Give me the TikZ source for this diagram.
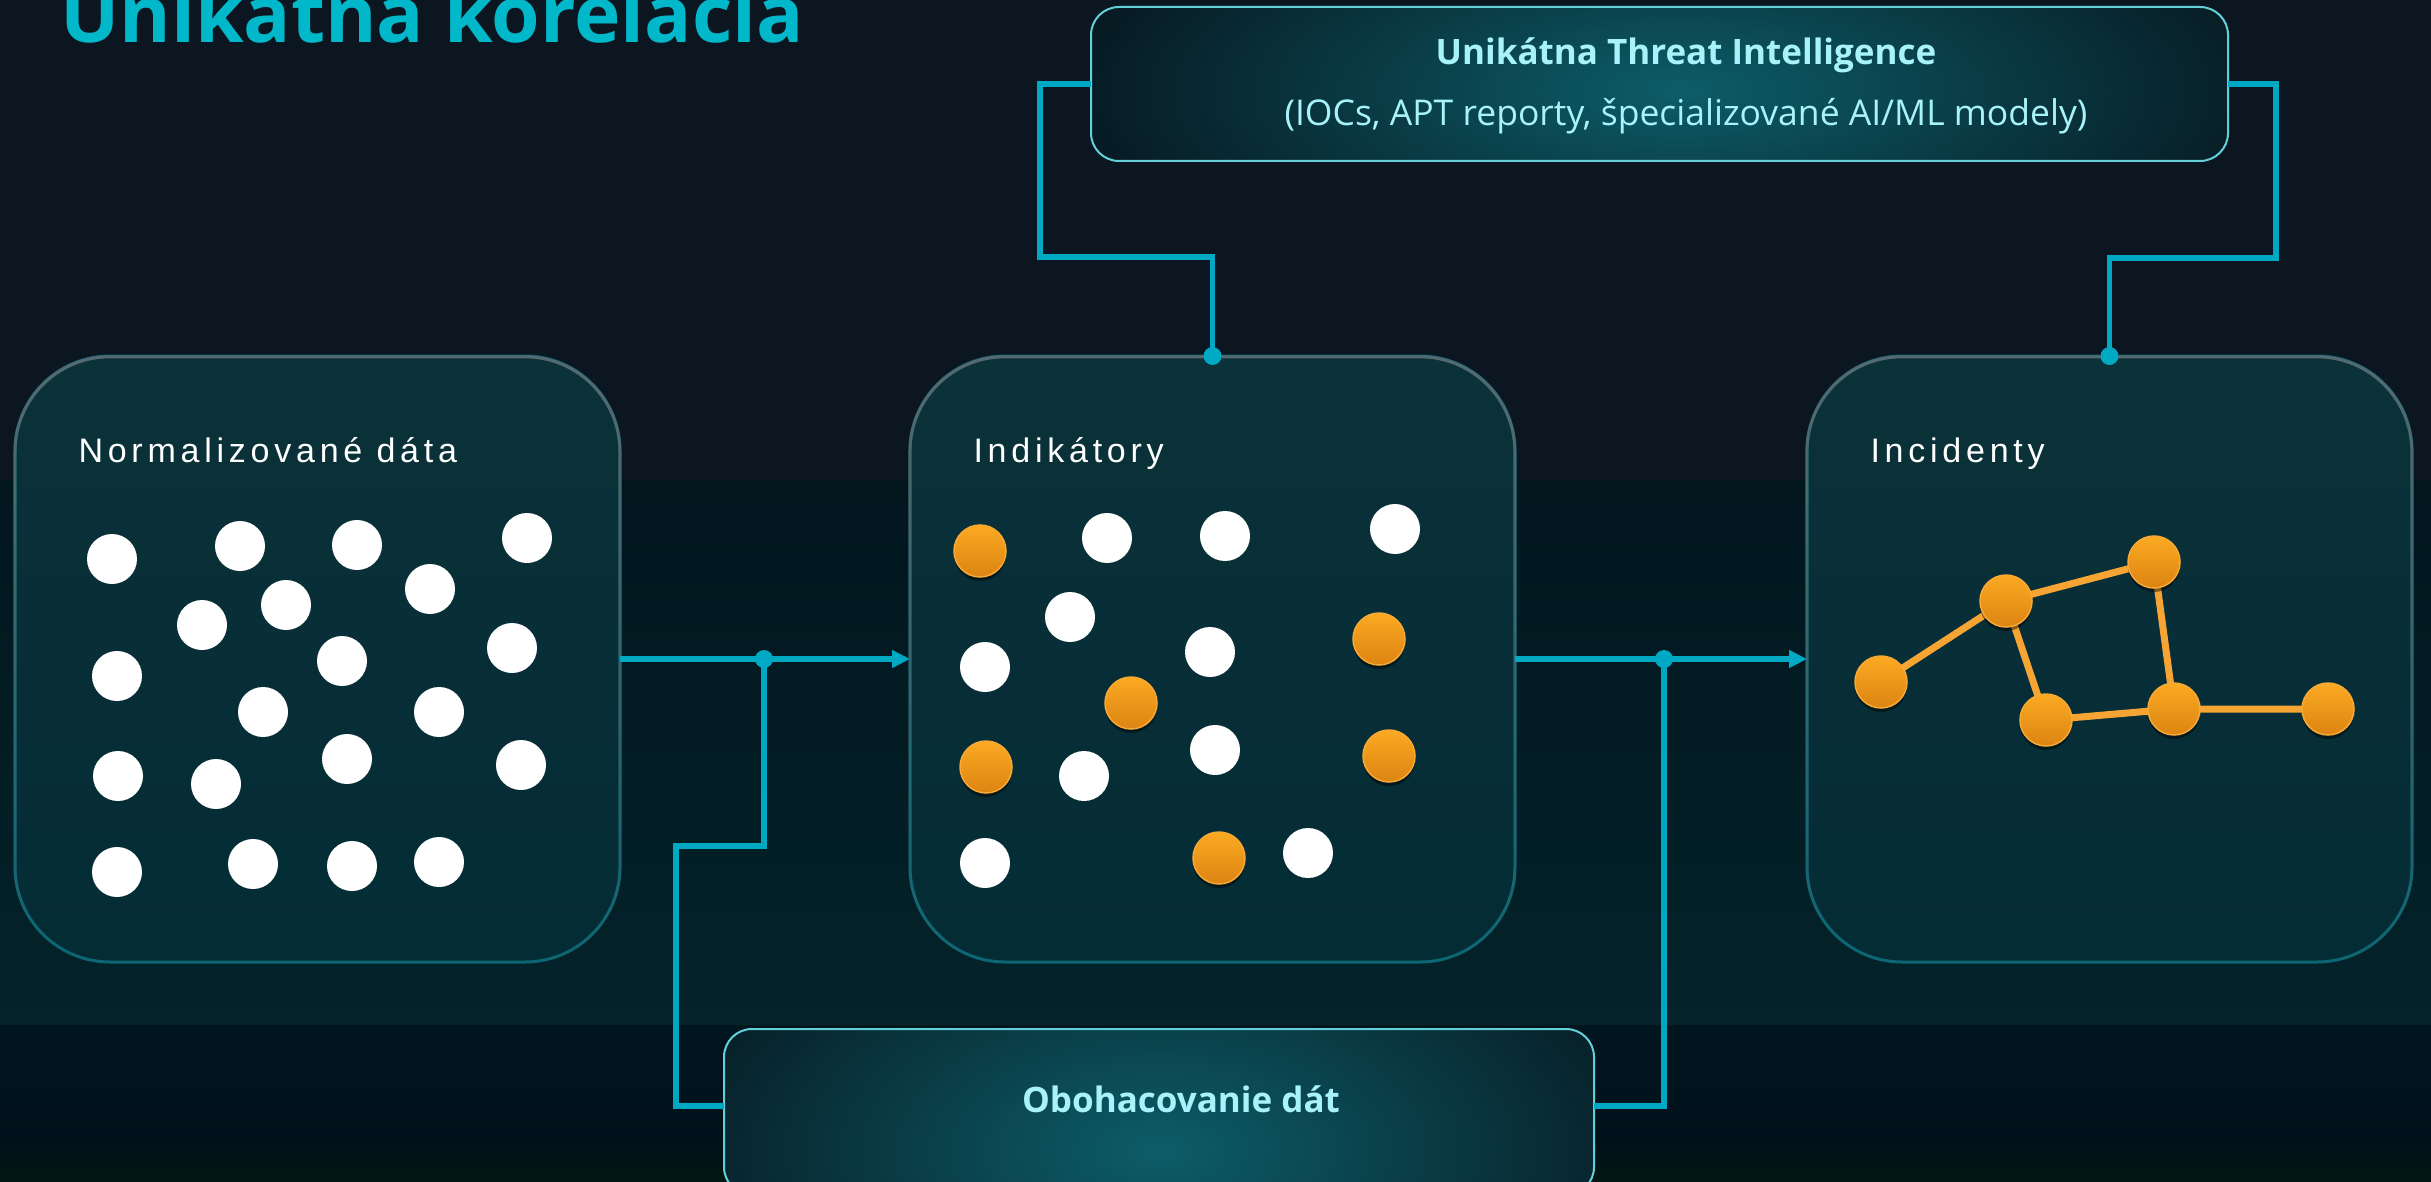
\documentclass[tikz,border=0pt]{standalone}
\usepackage{fontspec}
\setmainfont{Open Sans}
\newfontfamily\labelfont[LetterSpace=14]{Liberation Sans}
\usetikzlibrary{arrows.meta,shadows,fadings,calc}

\definecolor{bgTop}{HTML}{0B1620}
\definecolor{bgMidA}{HTML}{02161E}
\definecolor{bgMidB}{HTML}{04232A}
\definecolor{bgLowA}{HTML}{02161F}
\definecolor{bgLowB}{HTML}{01111B}
\definecolor{bgFoot}{HTML}{021712}
\definecolor{titlecyan}{HTML}{00B8C9}
\definecolor{wire}{HTML}{00A9C3}
\definecolor{boxTop}{HTML}{0B3139}
\definecolor{boxMid}{HTML}{02222B}
\definecolor{boxBot}{HTML}{042C34}
\definecolor{edgeGrey}{HTML}{566A70}
\definecolor{edgeTeal}{HTML}{0D6674}
\definecolor{glowIn}{HTML}{0C5D68}
\definecolor{glowOut}{HTML}{07171F}
\definecolor{glowEdge}{HTML}{62CFD9}
\definecolor{headcyan}{HTML}{A8F3FA}
\definecolor{orgTop}{HTML}{FBAA22}
\definecolor{orgBot}{HTML}{DC8412}
\definecolor{orgRim}{HTML}{F8A836}
\definecolor{orgLine}{HTML}{F6A534}

\tikzset{
  bigbox/.style={rectangle, rounded corners=95pt, minimum width=605pt,
    minimum height=606pt, inner sep=0pt, outer sep=0pt, anchor=north west,
    top color=boxTop, middle color=boxMid, bottom color=boxBot,
    draw=edgeTeal, line width=3pt},
  glowbox/.style={rectangle, rounded corners=28pt, inner sep=0pt, outer sep=0pt,
    anchor=north west, fill=glowOut},
  glowrim/.style={draw=glowEdge, line width=2pt, rounded corners=28pt},
  boxlabel/.style={anchor=base west, text=white,
    font=\labelfont\fontsize{34}{40}\selectfont},
  headtext/.style={anchor=base, text=headcyan,
    font=\fontsize{35}{40}\bfseries\selectfont},
  subtext/.style={anchor=base, text=headcyan,
    font=\fontsize{35.5}{40}\selectfont},
  wdot/.style={circle, fill=white, minimum size=50pt, inner sep=0pt},
  odot/.style={circle, minimum size=52pt, inner sep=0pt,
    top color=orgTop, bottom color=orgBot, draw=orgRim, line width=1.5pt,
    drop shadow={shadow xshift=0pt, shadow yshift=-4pt, opacity=0.45, fill=black}},
  wire/.style={draw=wire, line width=5.5pt},
  flow/.style={wire, -{Triangle[length=18pt,width=17pt]}},
  joint/.style={fill=wire},
  gedge/.style={draw=orgLine, line width=7pt},
}

\begin{document}
\begin{tikzpicture}[x=1pt,y=-1pt]
\useasboundingbox (0,0) rectangle (2431,1182);
\clip (0,0) rectangle (2431,1182);

% background bands
\fill[bgTop] (0,0) rectangle (2431,480);
\shade[top color=bgMidA, bottom color=bgMidB] (0,480) rectangle (2431,1025);
\shade[top color=bgLowA, bottom color=bgLowB] (0,1025) rectangle (2431,1137);
\shade[top color=bgLowB, bottom color=bgFoot] (0,1137) rectangle (2431,1182);

% title
\node[anchor=base west, text=titlecyan, inner sep=0pt,
  font=\fontsize{78.5}{80}\bfseries\selectfont] (title) at (60,43) {Unikátna korelácia};

% the three stage panels
\node[bigbox] (norm) at (15,356) {};
\node[bigbox] (ind) at (910,356) {};
\node[bigbox] (inc) at (1807,356) {};
\foreach \b in {norm,ind,inc}
  \draw[edgeGrey, line width=3pt, rounded corners=95pt, path fading=south]
    (\b.north west) rectangle (\b.south east);

\node[boxlabel] (normL) at (75,462) {Normalizované dáta};
\node[boxlabel] (indL) at (970,462) {Indikátory};
\node[boxlabel] (incL) at (1867,462) {Incidenty};

% raw events
\foreach \x/\y [count=\i] in {112/559,240/546,357/545,527/538,430/589,202/625,
  286/605,117/676,342/661,512/648,263/712,439/712,118/776,216/784,347/759,
  521/765,117/872,253/864,352/866,439/862}
  \node[wdot] (n\i) at (\x,\y) {};

% indicators: plain events and flagged ones
\foreach \x/\y [count=\i] in {1107/538,1225/536,1395/529,1070/617,985/667,
  1210/652,1084/776,1215/750,985/863,1308/853}
  \node[wdot] (iw\i) at (\x,\y) {};
\foreach \x/\y [count=\i] in {980/551,1379/639,1131/703,986/767,1389/756,1219/858}
  \node[odot] (io\i) at (\x,\y) {};

% incident graph
\coordinate (ga) at (1881,682);
\coordinate (gb) at (2006,601);
\coordinate (gc) at (2154,562);
\coordinate (gd) at (2046,720);
\coordinate (ge) at (2174,709);
\coordinate (gf) at (2328,709);
\draw[gedge] (ga) -- (gb) -- (gc) -- (ge) -- (gf);
\draw[gedge] (gb) -- (gd) -- (ge);
\foreach \g in {ga,gb,gc,gd,ge,gf}
  \node[odot] (n\g) at (\g) {};

% intelligence source
\node[glowbox, minimum width=1137pt, minimum height=154pt] (threat) at (1091,7) {};
\begin{scope}
  \clip[rounded corners=28pt] (threat.north west) rectangle (threat.south east);
  \shade[inner color=glowIn, outer color=glowOut] (1680,90) ellipse (640pt and 230pt);
\end{scope}
\draw[glowrim] (threat.north west) rectangle (threat.south east);
\node[headtext] (threatT) at (1686,65) {Unikátna Threat Intelligence};
\node[subtext] (threatS) at (1686,126) {(IOCs, APT reporty, špecializované AI/ML modely)};

% enrichment source
\node[glowbox, minimum width=870pt, minimum height=166pt] (enrich) at (724,1029) {};
\begin{scope}
  \clip[rounded corners=28pt] (enrich.north west) rectangle (enrich.south east);
  \shade[inner color=glowIn, outer color=glowOut] (1160,1150) ellipse (560pt and 300pt);
\end{scope}
\draw[glowrim] (enrich.north west) rectangle (enrich.south east);
\node[headtext] (enrichT) at (1181,1112) {Obohacovanie dát};

% main flow
\draw[flow] (norm.east) -- (ind.west);
\draw[flow] (ind.east) -- (inc.west);
\coordinate (j1) at (764,659);
\coordinate (j2) at (1664,659);
\coordinate (e1) at ($(enrich.north west)+(0,77)$);
\coordinate (e2) at ($(enrich.north east)+(0,77)$);
\draw[wire] (e1) -| (676,846) -| (j1);
\draw[wire] (e2) -| (j2);
\fill[joint] (j1) circle (9pt);
\fill[joint] (j2) circle (9pt);

% intelligence feeds into the panels
\draw[wire] (ind.north) |- (1040,257) |- (threat.west);
\draw[wire] (inc.north) |- (2276,258) |- (threat.east);
\fill[joint] (ind.north) circle (9pt);
\fill[joint] (inc.north) circle (9pt);
\end{tikzpicture}
\end{document}
